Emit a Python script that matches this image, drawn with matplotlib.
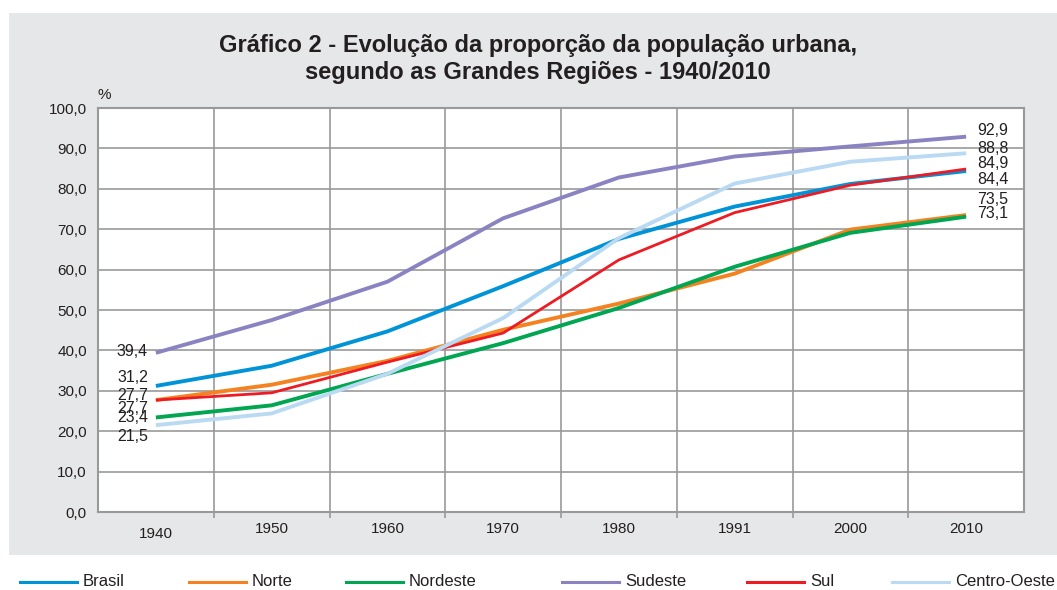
import matplotlib
matplotlib.use("Agg")
import matplotlib.pyplot as plt
from matplotlib.patches import Rectangle
from matplotlib.lines import Line2D

# data
years = ["1940", "1950", "1960", "1970", "1980", "1991", "2000", "2010"]
brasil = [31.2, 36.2, 44.7, 55.9, 67.6, 75.6, 81.2, 84.4]
norte = [27.7, 31.5, 37.4, 45.1, 51.6, 59.0, 69.9, 73.5]
nordeste = [23.4, 26.4, 34.2, 41.8, 50.5, 60.7, 69.1, 73.1]
sudeste = [39.4, 47.5, 57.0, 72.7, 82.8, 88.0, 90.5, 92.9]
sul = [27.7, 29.5, 37.1, 44.3, 62.4, 74.1, 80.9, 84.9]
centro_oeste = [21.5, 24.4, 34.2, 48.0, 67.8, 81.3, 86.7, 88.8]
names = ["Brasil", "Norte", "Nordeste", "Sudeste", "Sul", "Centro-Oeste"]
series = [brasil, norte, nordeste, sudeste, sul, centro_oeste]

colors = ["#0093d8", "#f58220", "#00a651", "#8a83c2", "#ed1c24", "#b9daf2"]
widths = [2.8, 2.8, 2.8, 2.8, 2.0, 2.8]
# label offsets in pixels (start, end), same order as series
off_start = [8, 5, 0, 1, -8, -11]
off_end = [-8, 16, 3, 6, 6, 5]

txt = "#231f20"
plt.rcParams['font.family'] = ['Liberation Sans', 'DejaVu Sans']

fig = plt.figure(figsize=(10.57, 5.9), dpi=100)
fig.patch.set_facecolor("white")
fig.add_artist(Rectangle((9/1057, 35/590), 1.0, 542/590, transform=fig.transFigure,
                         facecolor="#e6e7e8", edgecolor="none", zorder=0))

ax = fig.add_axes([98/1057, 78/590, 926/1057, 404/590])
ax.set_facecolor("white")
x = list(range(len(years)))
for s, c, w in zip(series, colors, widths):
    ax.plot(x, s, color=c, lw=w, solid_capstyle="butt", zorder=3)

for s, os_, oe in zip(series, off_start, off_end):
    ax.annotate(f"{s[0]:.1f}".replace(".", ","), (x[0], s[0]), xytext=(-8, os_),
                textcoords="offset pixels", ha="right", va="center", fontsize=11.5, color=txt)
    ax.annotate(f"{s[-1]:.1f}".replace(".", ","), (x[-1], s[-1]), xytext=(11, oe),
                textcoords="offset pixels", ha="left", va="center", fontsize=11.5, color=txt)

ax.set_xlim(-0.5, len(years) - 0.5)
ax.set_ylim(0, 100)
ax.set_yticks(range(0, 101, 10))
ax.set_yticklabels([f"{v:.1f}".replace(".", ",") for v in range(0, 101, 10)], fontsize=11, color=txt)
ax.set_xticks(x)
ax.set_xticklabels(years, fontsize=11, color=txt)
ax.set_xticks([i + 0.5 for i in x[:-1]], minor=True)
ax.tick_params(axis="x", which="major", length=0, pad=7)
ax.tick_params(axis="x", which="minor", length=4, color="#999999", width=1.2)
ax.tick_params(axis="y", length=0, pad=8)
ax.xaxis.get_majorticklabels()[0].set_y(-0.012)
ax.grid(axis="y", color="#999999", lw=1.2)
ax.grid(axis="x", which="minor", color="#999999", lw=1.2)
ax.set_axisbelow(True)
for sp in ax.spines.values():
    sp.set_color("#999999")
    sp.set_linewidth(1.5)
ax.text(-0.5, 101.5, "%", fontsize=11, color=txt, ha="left", va="bottom")

fig.text(538/1057, 1 - 59/590, "Gráfico 2 - Evolução da proporção da população urbana,\nsegundo as Grandes Regiões - 1940/2010",
         ha="center", va="center", fontsize=17, fontweight="bold", color=txt,
         family=["Liberation Sans Narrow", "Liberation Sans", "DejaVu Sans"], linespacing=1.25)

# legend
leg_x = [20, 189, 346, 562, 747, 892]
for name, c, lx in zip(names, colors, leg_x):
    y = 1 - 582/590
    fig.add_artist(Line2D([lx/1057, (lx + 57)/1057], [y, y], transform=fig.transFigure,
                          color=c, lw=2.2))
    fig.text((lx + 63)/1057, y, name, ha="left", va="center", fontsize=12, color=txt)

fig.savefig("out.png", dpi=100)
